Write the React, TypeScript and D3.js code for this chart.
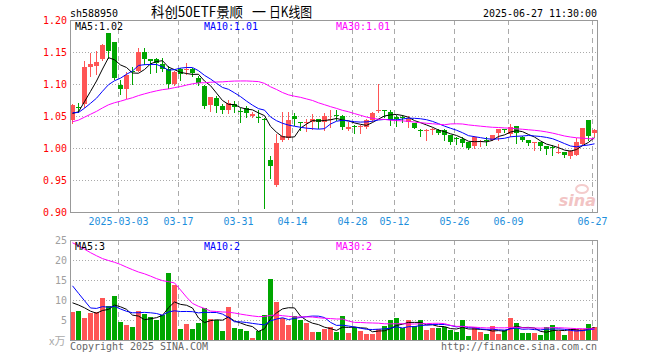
import React from "react";
import * as d3 from "d3";

// ---------- data ----------
const tradeDays = (
  "02-19 02-20 02-21 02-24 02-25 02-26 02-27 02-28 " +
  "03-03 03-04 03-05 03-06 03-07 03-10 03-11 03-12 03-13 03-14 03-17 03-18 03-19 03-20 03-21 03-24 03-25 03-26 03-27 03-28 03-31 " +
  "04-01 04-02 04-03 04-07 04-08 04-09 04-10 04-11 04-14 04-15 04-16 04-17 04-18 04-21 04-22 04-23 04-24 04-25 04-28 04-29 04-30 " +
  "05-06 05-07 05-08 05-09 05-12 05-13 05-14 05-15 05-16 05-19 05-20 05-21 05-22 05-23 05-26 05-27 05-28 05-29 05-30 " +
  "06-03 06-04 06-05 06-06 06-09 06-10 06-11 06-12 06-13 06-16 06-17 06-18 06-19 06-20 06-23 06-24 06-25 06-26 06-27"
)
  .split(" ")
  .map((d) => "2025-" + d);

const openPrices = [
  1.043, 1.064, 1.068, 1.127, 1.128, 1.139, 1.179, 1.165, 1.099, 1.092,
  1.121, 1.121, 1.150, 1.139, 1.139, 1.132, 1.123, 1.100, 1.123, 1.122,
  1.124, 1.110, 1.097, 1.067, 1.078, 1.066, 1.059, 1.068, 1.058, 1.062,
  1.050, 1.049, 1.045, 0.981, 0.942, 1.012, 1.015, 1.050, 1.041, 1.039,
  1.040, 1.045, 1.040, 1.043, 1.052, 1.050, 1.029, 1.035, 1.033, 1.033,
  1.043, 1.059, 1.059, 1.057, 1.049, 1.048, 1.041, 1.0385, 1.028, 1.027,
  1.028, 1.028, 1.028, 1.020, 1.016, 1.0135, 1.010, 1.003, 1.011, 1.0125,
  1.0125, 1.023, 1.0295, 1.022, 1.0344, 1.0177, 1.0125, 1.0085, 1.0094, 1.003,
  1.001, 0.9925, 0.9937, 0.9875, 0.989, 1.006, 1.043, 1.023,
];
const highPrices = [
  1.069, 1.070, 1.136, 1.149, 1.152, 1.163, 1.180, 1.166, 1.107, 1.118,
  1.126, 1.156, 1.156, 1.139, 1.140, 1.140, 1.128, 1.121, 1.125, 1.133,
  1.125, 1.112, 1.098, 1.080, 1.081, 1.068, 1.075, 1.074, 1.063, 1.066,
  1.057, 1.059, 1.047, 0.988, 1.022, 1.057, 1.057, 1.055, 1.041, 1.046,
  1.053, 1.046, 1.054, 1.059, 1.059, 1.051, 1.040, 1.036, 1.036, 1.046,
  1.057, 1.100, 1.060, 1.059, 1.052, 1.051, 1.050, 1.039, 1.029, 1.029,
  1.032, 1.029, 1.029, 1.021, 1.017, 1.017, 1.010, 1.019, 1.0125, 1.0167,
  1.021, 1.030, 1.030, 1.037, 1.0344, 1.019, 1.0125, 1.009, 1.0094, 1.003,
  1.005, 1.006, 0.994, 0.997, 1.015, 1.031, 1.043, 1.029,
];
const lowPrices = [
  1.039, 1.057, 1.064, 1.113, 1.116, 1.137, 1.140, 1.108, 1.084, 1.078,
  1.100, 1.120, 1.132, 1.117, 1.118, 1.121, 1.094, 1.098, 1.107, 1.115,
  1.113, 1.098, 1.063, 1.058, 1.057, 1.055, 1.055, 1.057, 1.041, 1.048,
  1.049, 1.040, 0.906, 0.953, 0.941, 1.011, 1.0135, 1.036, 1.028, 1.026,
  1.029, 1.032, 1.028, 1.033, 1.044, 1.029, 1.028, 1.023, 1.023, 1.032,
  1.042, 1.057, 1.049, 1.036, 1.034, 1.040, 1.033, 1.031, 1.019, 1.0125,
  1.022, 1.022, 1.0125, 1.007, 1.007, 1.003, 0.998, 0.9995, 1.003, 1.0047,
  1.012, 1.0125, 1.0255, 1.018, 1.008, 1.0115, 1.005, 0.997, 0.997, 0.991,
  0.989, 0.9915, 0.9865, 0.9844, 0.989, 1.004, 1.012, 1.018,
];
const closePrices = [
  1.067, 1.063, 1.127, 1.132, 1.134, 1.161, 1.152, 1.110, 1.092, 1.114,
  1.118, 1.150, 1.139, 1.136, 1.133, 1.124, 1.100, 1.119, 1.115, 1.124,
  1.117, 1.101, 1.066, 1.079, 1.066, 1.059, 1.071, 1.064, 1.056, 1.054,
  1.053, 1.047, 1.043, 0.972, 1.008, 1.018, 1.043, 1.046, 1.040, 1.040,
  1.045, 1.040, 1.050, 1.045, 1.051, 1.033, 1.033, 1.034, 1.034, 1.043,
  1.055, 1.060, 1.058, 1.043, 1.046, 1.047, 1.046, 1.032, 1.027, 1.028,
  1.029, 1.024, 1.020, 1.010, 1.015, 1.008, 0.9995, 1.0167, 1.0115, 1.012,
  1.020, 1.030, 1.029, 1.0333, 1.023, 1.0125, 1.008, 1.0089, 1.003, 0.998,
  1.000, 0.993, 0.9896, 0.9953, 1.010, 1.031, 1.018, 1.028,
];
// volume in 万 (10k)
const volumes = [
  7.0, 7.25, 5.5, 6.8, 6.9, 10.5, 8.5, 11.0, 4.6, 3.75,
  3.25, 7.3, 6.5, 5.75, 5.1, 6.2, 16.75, 13.75, 2.75, 4.0,
  2.75, 4.25, 8.0, 5.25, 5.0, 2.25, 8.25, 3.0, 2.75, 2.25,
  0.5, 2.25, 6.25, 15.25, 9.6, 5.5, 3.75, 6.0, 5.0, 4.25,
  2.0, 2.0, 2.75, 3.25, 2.0, 6.0, 1.75, 3.25, 2.25, 1.5,
  1.5, 2.75, 3.5, 5.0, 5.5, 3.0, 5.0, 3.5, 5.0, 2.5,
  3.0, 3.0, 3.25, 2.5, 2.0, 5.0, 1.0, 3.25, 2.0, 1.5,
  3.5, 1.5, 2.5, 5.5, 4.25, 1.75, 1.75, 1.75, 1.25, 3.25,
  3.75, 2.25, 1.25, 2.75, 2.75, 2.75, 4.0, 3.25,
];
// sessions before the visible window, estimated from where the MA lines start
const priorCloses = [
  0.985, 0.99, 0.995, 0.998, 1.0, 1.005, 1.012, 1.02, 1.03, 1.04,
  1.05, 1.058, 1.062, 1.066, 1.068, 1.065, 1.06, 1.062, 1.058, 1.055,
  1.058, 1.06, 1.056, 1.054, 1.052, 1.05, 1.048, 1.052, 1.053,
];
const priorVolumes = [
  30, 31, 33, 30, 32, 23, 24, 21, 24, 22,
  25, 20, 23, 24, 21, 25, 23, 55, 58, 50,
  26, 24, 25, 8, 6, 10, 9, 11, 9.5,
];

const priceTicks = [0.9, 0.95, 1.0, 1.05, 1.1, 1.15, 1.2];
const volumeTicks = [5, 10, 15, 20, 25];
const dateTicks = ["2025-03-03", "2025-03-17", "2025-03-31", "2025-04-14", "2025-04-28", "2025-05-12", "2025-05-26", "2025-06-09", "2025-06-27"];
const dateTickLabels = ["2025-03-03", "03-17", "03-31", "04-14", "04-28", "05-12", "05-26", "06-09", "06-27"];
const maPeriods = [5, 10, 30];
const maColors = ["#000000", "#0000ff", "#ff00ff"];
const priceMaLabels = ["MA5:1.02", "MA10:1.01", "MA30:1.01"];
const volumeMaLabels = ["MA5:3", "MA10:2", "MA30:2"];
const maLabelX = [75, 204, 336];
const symbol = "sh588950";
const titleParts = ["科创50ETF景顺", "一", "日K线图"];
const timestamp = "2025-06-27 11:30:00";

// ---------- layout ----------
const W = 660;
const H = 360;
const L = 70;
const R = 597;
const PT = 20;
const PB = 212;
const VT = 240;
const VB = 340;
const UP = "#ff5555";
const DOWN = "#00a600";
const GRID = "#aaaaaa";
const FRAME = "#999999";
const MONO = "'DejaVu Sans Mono', 'Liberation Mono', monospace";

function movingAverage(prior: number[], values: number[], n: number) {
  const all = prior.concat(values);
  const off = prior.length;
  return values.map((_, i) => d3.mean(all.slice(off + i - n + 1, off + i + 1)) as number);
}

function Mono(props: { x: number; y: number; text: string; fill: string; anchor?: string; size?: number }) {
  const { x, y, text, fill, anchor = "start", size = 11 } = props;
  return (
    <text
      x={x}
      y={y}
      fill={fill}
      textAnchor={anchor as any}
      fontFamily={MONO}
      fontSize={size}
      textLength={text.length * 6}
      lengthAdjust="spacingAndGlyphs"
    >
      {text}
    </text>
  );
}

export default function App() {
  const x = d3.scalePoint<string>().domain(tradeDays).range([72, 594]);
  const yP = d3.scaleLinear().domain([0.9, 1.2]).range([PB, PT]);
  const yV = d3.scaleLinear().domain([0, 25]).range([VB, VT]);

  const candles = tradeDays.map((d, i) => ({
    d,
    o: openPrices[i],
    h: highPrices[i],
    l: lowPrices[i],
    c: closePrices[i],
    v: volumes[i],
  }));

  const priceMAs = maPeriods.map((n) => movingAverage(priorCloses, closePrices, n));
  const volMAs = maPeriods.map((n) => movingAverage(priorVolumes, volumes, n));

  const priceLine = d3
    .line<number>()
    .x((_, i) => (x(tradeDays[i]) as number) + 0.5)
    .y((v) => yP(v));
  const volLine = d3
    .line<number>()
    .x((_, i) => (x(tradeDays[i]) as number) + 0.5)
    .y((v) => yV(v));

  const vGridX = dateTicks.map((d) => (x(d) as number) - 1.5);
  const CJK = "'Noto Sans CJK SC', sans-serif";

  return (
    <svg
      width={W}
      height={H}
      viewBox={`0 0 ${W} ${H}`}
      style={{ position: "absolute", left: 0, top: 0, display: "block", background: "#fff" }}
    >
      <rect x={0} y={0} width={W} height={H} fill="#fff" />

      {/* header */}
      <Mono x={L} y={17} text={symbol} fill="#000" />
      <text x={151} y={17} fontFamily={CJK} fontSize={14} fill="#000" textLength={92} lengthAdjust="spacingAndGlyphs">
        {titleParts[0]}
      </text>
      <text x={252} y={17} fontFamily={CJK} fontSize={14} fill="#000">
        {titleParts[1]}
      </text>
      <text x={269} y={17} fontFamily={CJK} fontSize={14} fill="#000" textLength={43} lengthAdjust="spacingAndGlyphs">
        {titleParts[2]}
      </text>
      <Mono x={R} y={17} text={timestamp} fill="#000" anchor="end" />

      {/* price grid */}
      {priceTicks.slice(1, -1).map((t) => (
        <line key={"pg" + t} x1={L} x2={R} y1={Math.round(yP(t)) + 0.5} y2={Math.round(yP(t)) + 0.5} stroke={GRID} strokeDasharray="1,2" />
      ))}
      {vGridX.map((gx, i) => (
        <line key={"pv" + i} x1={gx} x2={gx} y1={PT} y2={PB} stroke={GRID} strokeDasharray="5,4" />
      ))}
      {priceTicks.map((t) => (
        <Mono key={"pl" + t} x={67} y={Math.round(yP(t)) + 4} text={t.toFixed(2)} fill="#ff0000" anchor="end" />
      ))}

      {/* watermark */}
      <text x={596} y={206} textAnchor="end" fontFamily="'DejaVu Sans', sans-serif" fontStyle="italic" fontWeight="bold" fontSize={16} fill="#f2c4c4">
        sina
      </text>
      <ellipse cx={582} cy={189} rx={6} ry={4} fill="none" stroke="#f4cccc" strokeWidth={2} />

      {/* candles */}
      {candles.map((k) => {
        const cx = x(k.d) as number;
        const col = k.c >= k.o ? UP : DOWN;
        const top = Math.round(yP(Math.max(k.o, k.c)));
        const bot = Math.round(yP(Math.min(k.o, k.c)));
        return (
          <g key={k.d}>
            <line x1={cx + 0.5} x2={cx + 0.5} y1={Math.round(yP(k.h))} y2={Math.round(yP(k.l)) + 1} stroke={col} />
            <rect x={cx - 2} y={top} width={5} height={Math.max(1, bot - top)} fill={col} />
          </g>
        );
      })}
      {priceMAs.map((ma, j) => (
        <path key={"pma" + j} d={priceLine(ma) as string} fill="none" stroke={maColors[j]} strokeWidth={1} />
      ))}
      <rect x={L + 0.5} y={PT + 0.5} width={R - L} height={PB - PT} fill="none" stroke={FRAME} />
      {priceMaLabels.map((t, j) => (
        <Mono key={"pml" + j} x={maLabelX[j]} y={30} text={t} fill={maColors[j]} />
      ))}

      {/* date labels */}
      {dateTicks.map((d, i) => (
        <Mono key={"dl" + d} x={vGridX[i]} y={225} text={dateTickLabels[i]} fill="#1e8fdc" anchor="middle" />
      ))}

      {/* volume pane */}
      {volumeTicks.slice(0, -1).map((t) => (
        <line key={"vg" + t} x1={L} x2={R} y1={Math.round(yV(t)) + 0.5} y2={Math.round(yV(t)) + 0.5} stroke={GRID} strokeDasharray="1,2" />
      ))}
      {vGridX.map((gx, i) => (
        <line key={"vv" + i} x1={gx} x2={gx} y1={VT} y2={VB} stroke={GRID} strokeDasharray="5,4" />
      ))}
      {volumeTicks.map((t) => (
        <Mono key={"vl" + t} x={67} y={Math.round(yV(t)) + 4} text={String(t)} fill="#a0a0a0" anchor="end" />
      ))}
      <text x={49} y={345} fontFamily={CJK} fontSize={11} fill="#aaaaaa">
        x万
      </text>
      {candles.map((k) => {
        const cx = x(k.d) as number;
        const col = k.c >= k.o ? UP : DOWN;
        const top = Math.round(yV(k.v));
        return <rect key={"vb" + k.d} x={cx - 2} y={top} width={5} height={Math.max(1, VB - top)} fill={col} />;
      })}
      {volMAs.map((ma, j) => (
        <path key={"vma" + j} d={volLine(ma) as string} fill="none" stroke={maColors[j]} strokeWidth={1} />
      ))}
      <rect x={L + 0.5} y={VT + 0.5} width={R - L} height={VB - VT} fill="none" stroke={FRAME} />
      {volumeMaLabels.map((t, j) => (
        <Mono key={"vml" + j} x={maLabelX[j]} y={250} text={t} fill={maColors[j]} />
      ))}

      {/* footer */}
      <Mono x={L} y={350} text="Copyright 2025 SINA.COM" fill="#666666" />
      <Mono x={R} y={350} text="http://finance.sina.com.cn" fill="#666666" anchor="end" />
    </svg>
  );
}
